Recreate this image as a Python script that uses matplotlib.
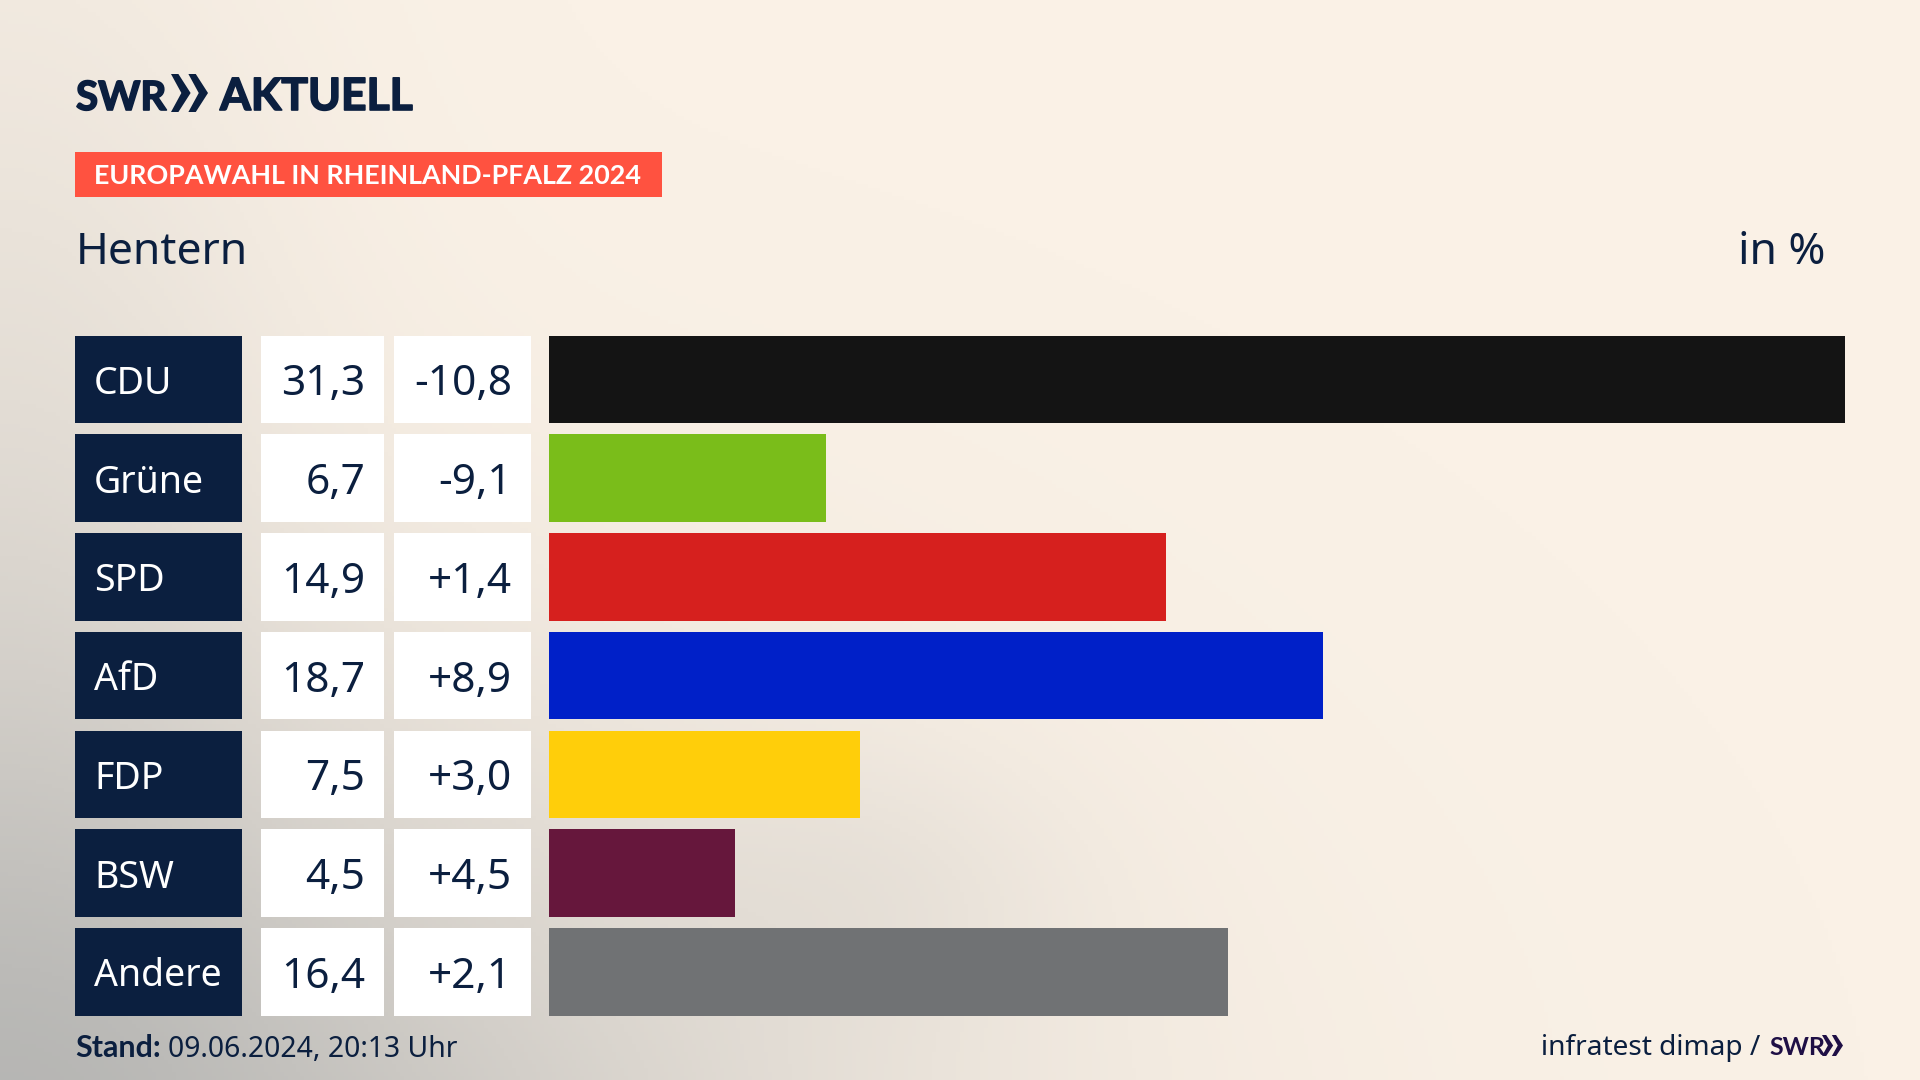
from __future__ import annotations

import matplotlib

matplotlib.use("Agg")
import matplotlib.patheffects as pe
import matplotlib.pyplot as plt
import numpy as np
from matplotlib.colors import LinearSegmentedColormap
from matplotlib.patches import Polygon

parties = ["CDU", "Grüne", "SPD", "AfD", "FDP", "BSW", "Andere"]
shares = [31.3, 6.7, 14.9, 18.7, 7.5, 4.5, 16.4]
changes = [-10.8, -9.1, 1.4, 8.9, 3.0, 4.5, 2.1]
colors = ["#141414", "#7ABD1A", "#D6201E", "#0020C8", "#FFCE0A", "#66173C", "#707274"]

WIDTH, HEIGHT = 1920, 1080
NAVY = "#0B1F3F"
PURPLE = "#1F0F45"
FONT = "Noto Sans"
BOLD_FONT = "Lato"

plt.rcParams["font.family"] = [FONT, "DejaVu Sans"]


def px_axes(fig, left, top, right, bottom):
    return fig.add_axes([left / WIDTH, 1 - bottom / HEIGHT, (right - left) / WIDTH, (bottom - top) / HEIGHT])


def fmt(value, signed=False):
    text = f"{value:+.1f}" if signed else f"{value:.1f}"
    return text.replace(".", ",")


def draw_background(fig):
    ax = px_axes(fig, 0, 0, WIDTH, HEIGHT)
    xx, yy = np.meshgrid(np.linspace(0, 1, 480), np.linspace(0, 1, 270))
    shade = 0.88 * np.exp(-((xx / 0.42) ** 2 + ((yy - 1.10) / 0.45) ** 2))
    shade += 0.28 * np.exp(-((xx / 0.15) ** 2 + ((yy - 0.50) / 0.55) ** 2))
    shade += 0.10 * np.exp(-(((xx - 0.46) / 0.10) ** 2 + ((yy - 0.82) / 0.12) ** 2))
    shade = np.clip(shade, 0, 1)
    cmap = LinearSegmentedColormap.from_list("bg", ["#FAF1E6", "#B4B4B2"])
    ax.imshow(shade, cmap=cmap, vmin=0, vmax=1, aspect="auto", extent=(0, 1, 1, 0))
    ax.axis("off")


def column_axes(fig, left, right):
    ax = px_axes(fig, left, 334.9, right, 1016.3)
    ax.set_ylim(len(parties) - 0.55, -0.45)
    ax.axis("off")
    return ax


def chevrons(overlay, x, top, bottom, width, color):
    mid = (top + bottom) / 2
    for offset in (0, width * 0.47):
        points = [
            (x + offset, top),
            (x + offset + width * 0.20, top),
            (x + offset + width * 0.53, mid),
            (x + offset + width * 0.20, bottom),
            (x + offset, bottom),
            (x + offset + width * 0.28, mid),
        ]
        overlay.add_patch(Polygon(points, closed=True, facecolor=color, edgecolor="none"))


fig = plt.figure(figsize=(WIDTH / 100, HEIGHT / 100), dpi=100)
draw_background(fig)

# label, value and change columns
label_ax = column_axes(fig, 75, 242)
value_ax = column_axes(fig, 261, 384)
change_ax = column_axes(fig, 394, 531)
rows = np.arange(len(parties))
label_ax.barh(rows, 167, left=75, height=0.886, color=NAVY)
value_ax.barh(rows, 123, left=261, height=0.886, color="white")
change_ax.barh(rows, 137, left=394, height=0.886, color="white")
label_ax.set_xlim(75, 242)
value_ax.set_xlim(261, 384)
change_ax.set_xlim(394, 531)
for i, party in enumerate(parties):
    label_ax.text(94, i, party, color="white", fontsize=27, va="center_baseline", ha="left")
    value_ax.text(365, i, fmt(shares[i]), color=NAVY, fontsize=30.5, va="center_baseline", ha="right")
    change_ax.text(512, i, fmt(changes[i], signed=True), color=NAVY, fontsize=30.5, va="center_baseline", ha="right")

bar_ax = column_axes(fig, 549, 1845)
bar_ax.barh(rows, shares, height=0.886, color=colors)
bar_ax.set_xlim(0, max(shares))

# header and footer, in pixel coordinates
overlay = px_axes(fig, 0, 0, WIDTH, HEIGHT)
overlay.set_xlim(0, WIDTH)
overlay.set_ylim(HEIGHT, 0)
overlay.axis("off")

heavy = [pe.withStroke(linewidth=1.2, foreground=NAVY)]
overlay.text(76, 110, "SWR", color=NAVY, fontsize=29, family=BOLD_FONT, fontweight="bold", va="baseline", path_effects=heavy)
chevrons(overlay, 171, 74, 112, 37, NAVY)
overlay.text(220, 110, "AKTUELL", color=NAVY, fontsize=32, family=BOLD_FONT, fontweight="bold", va="baseline", path_effects=heavy)

overlay.add_patch(plt.Rectangle((75, 152), 587, 45, facecolor="#FF5240", edgecolor="none"))
overlay.text(94, 184.5, "EUROPAWAHL IN RHEINLAND-PFALZ 2024", color="white", fontsize=19.4, family=BOLD_FONT, fontweight="bold", va="baseline")

overlay.text(76, 264, "Hentern", color=NAVY, fontsize=32, va="baseline")
overlay.text(1825, 264, "in %", color=NAVY, fontsize=32, va="baseline", ha="right")

stand = overlay.text(75, 1057, "Stand:", color=NAVY, fontsize=22, family=BOLD_FONT, fontweight="bold", va="baseline")
renderer = fig.canvas.get_renderer()
stand_end = stand.get_window_extent(renderer).x1
overlay.text(stand_end + 7, 1057, "09.06.2024, 20:13 Uhr", color=NAVY, fontsize=20.4, va="baseline")

overlay.text(1760, 1055, "infratest dimap /", color=NAVY, fontsize=20.2, va="baseline", ha="right")
overlay.text(1769, 1055, "SWR", color=PURPLE, fontsize=18, family=BOLD_FONT, fontweight="bold", va="baseline")
chevrons(overlay, 1822, 1035, 1056, 21, PURPLE)

fig.savefig("out.png", dpi=100)
